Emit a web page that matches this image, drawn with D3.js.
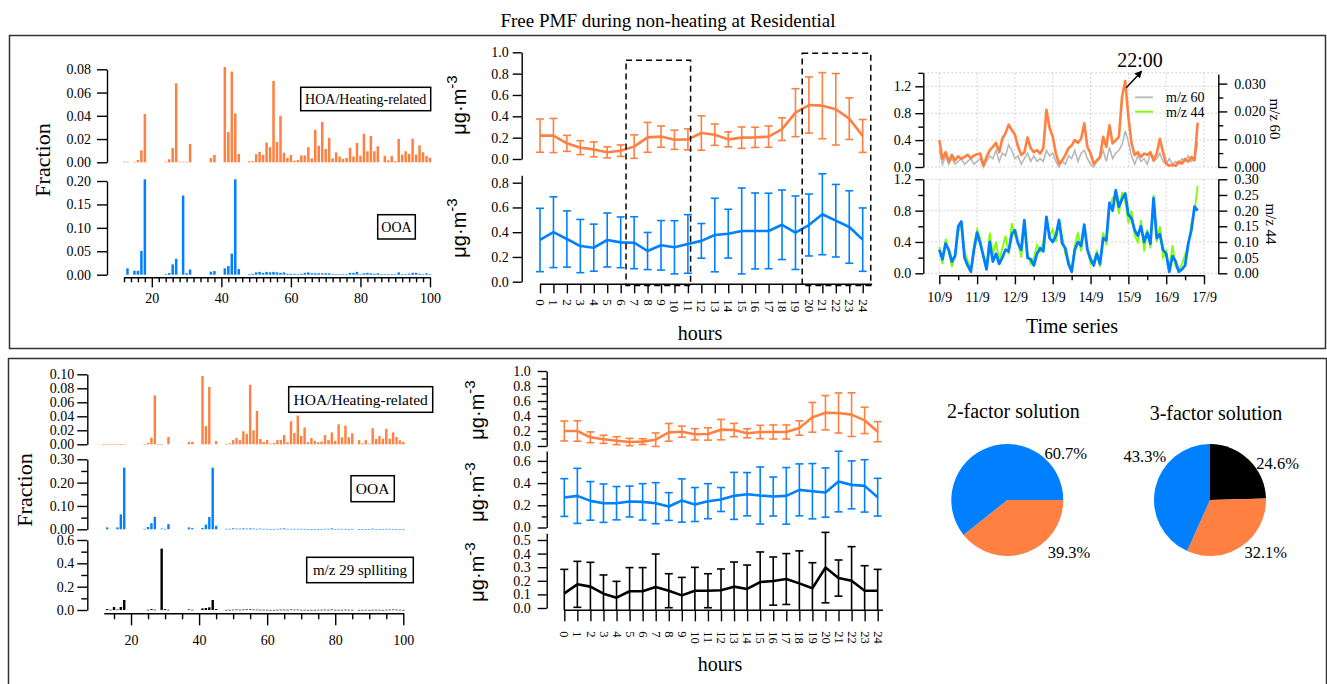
<!DOCTYPE html>
<html><head><meta charset="utf-8">
<script src="https://cdn.jsdelivr.net/npm/d3@7"></script>
<style>
body{margin:0;background:#fff;}
svg{display:block;}
</style></head><body>
<script>
// ---------------- DATA ----------------
const mzList = d3.range(12, 101); // m/z categories 12..100

// Top: 2-factor solution profiles (rows: 12-19, 20-29, ..., 90-99, 100)
const hoaTop = [
 0.0005,0.0005,0,0.0005,0.002,0.0103,0.0415,0,
 0,0,0,0,0.0005,0.0026,0.0123,0.068,0.0005,0.0005,
 0.0005,0.0158,0,0,0,0,0,0.0037,0.0063,0,
 0,0.082,0.026,0.078,0.042,0.0072,0,0,0.001,0.001,
 0.007,0.009,0.0063,0.017,0.013,0.070,0.0175,0.040,0.0083,0.0037,
 0.0063,0.0014,0.002,0.006,0.006,0.013,0.0034,0.028,0.0143,0.0347,
 0.0115,0.021,0.0034,0.0086,0.005,0.003,0.0037,0.0126,0.005,0.0166,
 0.0057,0.0244,0.0095,0.0226,0.0095,0.0138,0,0.0057,0.0017,0.0054,
 0.001,0.02,0.0066,0.0095,0.0072,0.0203,0.0066,0.0146,0.0086,0.0054,
 0.004];
const ooaTop = [
 0,0.0135,0,0.0085,0.0085,0.0505,0.2035,0,
 0,0,0,0,0.001,0.0035,0.022,0.034,0,0.169,
 0.003,0.011,0,0,0,0,0,0.0064,0.0078,0,
 0,0.0135,0.0185,0.045,0.2035,0.012,0,0,0.001,0.002,
 0.005,0.006,0.004,0.006,0.005,0.006,0.005,0.004,0.005,0.002,
 0.002,0.002,0.001,0.002,0.004,0.005,0.003,0.003,0.003,0.003,
 0.003,0.003,0.001,0.001,0.001,0.001,0.001,0.004,0.004,0.006,
 0.001,0.003,0.004,0.003,0.002,0.003,0.001,0.001,0.001,0.001,
 0.001,0.005,0.001,0.001,0.002,0.004,0.004,0.002,0.001,0.003,
 0.001];
// Bottom: 3-factor solution profiles
const hoaBot = [
 0.0003,0.0003,0.0003,0.0003,0.0003,0.0003,0.0003,0,
 0,0,0,0,0.0003,0.002,0.0095,0.07,0.0003,0.0003,
 0,0.0105,0,0,0,0,0,0.0033,0.0033,0,
 0,0.0976,0.026,0.082,0,0.0048,0,0,0.0005,0.0015,
 0.006,0.009,0.006,0.0186,0.0148,0.085,0.02,0.0476,0.0076,0.0033,
 0.006,0.001,0.002,0.006,0.006,0.0133,0.003,0.033,0.0162,0.041,
 0.012,0.024,0.003,0.009,0.005,0.003,0.004,0.0133,0.006,0.017,
 0.005,0.0286,0.01,0.0267,0.01,0.0157,0,0.006,0.0015,0.006,
 0.001,0.023,0.0076,0.012,0.008,0.022,0.008,0.017,0.0105,0.0057,
 0.0033];
const ooaBot = [
 0,0.008,0,0,0.008,0.064,0.264,0,
 0,0,0,0,0.002,0.01,0.026,0.053,0,0.003,
 0.002,0.022,0,0,0,0,0,0.008,0.005,0,
 0,0.006,0.02,0.053,0.264,0.015,0,0,0.002,0.002,
 0.004,0.003,0.003,0.004,0.003,0.004,0.003,0.002,0.003,0.002,
 0.002,0.001,0.001,0.002,0.003,0.004,0.002,0.002,0.002,0.002,
 0.002,0.002,0.001,0.001,0.001,0.001,0.001,0.002,0.002,0.004,
 0.001,0.002,0.002,0.002,0.001,0.002,0,0.001,0.001,0.001,
 0.001,0.003,0.001,0.001,0.001,0.002,0.002,0.001,0.001,0.001,
 0.001];
const mz29Bot = [
 0,0.008,0.002,0.026,0.004,0.026,0.086,0,
 0,0,0,0,0,0.002,0.008,0.003,0,0.526,
 0.008,0.002,0,0,0,0,0,0.005,0.002,0,
 0,0.014,0.017,0.023,0.086,0.008,0,0,0.001,0.002,
 0.003,0.004,0.003,0.004,0.005,0.006,0.004,0.003,0.002,0.002,
 0.002,0.001,0.001,0.002,0.003,0.003,0.002,0.004,0.003,0.003,
 0.002,0.002,0.001,0.001,0.001,0.002,0.002,0.003,0.002,0.004,
 0.002,0.002,0.002,0.003,0.002,0.002,0,0.001,0.001,0.002,
 0.001,0.002,0.002,0.002,0.001,0.002,0.003,0.004,0.003,0.002,
 0.001];

// Diurnal cycles (hour 0..24): mean and half error-bar length
const hours = d3.range(0, 25);
const hoaDiurTop = [0.219,0.22,0.147,0.106,0.09,0.0625,0.078,0.116,0.203,0.21,0.18,0.184,0.244,0.228,0.184,0.2,0.203,0.21,0.28,0.434,0.506,0.5,0.466,0.378,0.216];
const hoaErrTop  = [0.156,0.16,0.075,0.065,0.07,0.052,0.054,0.11,0.14,0.10,0.09,0.098,0.161,0.10,0.07,0.10,0.095,0.10,0.106,0.225,0.263,0.31,0.335,0.195,0.154];
const ooaDiurTop = [0.337,0.40,0.345,0.288,0.275,0.337,0.318,0.315,0.248,0.294,0.278,0.305,0.33,0.377,0.388,0.41,0.41,0.41,0.46,0.396,0.458,0.545,0.493,0.442,0.34];
const ooaErrTop  = [0.256,0.286,0.227,0.215,0.19,0.218,0.205,0.21,0.15,0.2,0.215,0.237,0.14,0.297,0.197,0.347,0.307,0.305,0.281,0.297,0.25,0.327,0.293,0.293,0.256];
const hoaDiurBot = [0.2,0.2,0.116,0.089,0.071,0.053,0.058,0.084,0.182,0.191,0.156,0.16,0.218,0.213,0.169,0.187,0.187,0.187,0.24,0.382,0.444,0.44,0.418,0.342,0.191];
const hoaErrBot  = [0.133,0.136,0.072,0.054,0.053,0.049,0.038,0.09,0.118,0.074,0.075,0.082,0.136,0.089,0.06,0.089,0.094,0.094,0.096,0.198,0.229,0.267,0.291,0.176,0.134];
const ooaDiurBot = [0.27,0.285,0.24,0.219,0.219,0.234,0.231,0.219,0.189,0.243,0.207,0.237,0.252,0.285,0.30,0.288,0.279,0.285,0.339,0.327,0.315,0.414,0.384,0.375,0.273];
const ooaErrBot  = [0.17,0.248,0.174,0.173,0.15,0.139,0.164,0.185,0.125,0.195,0.153,0.158,0.108,0.212,0.195,0.257,0.176,0.255,0.234,0.249,0.222,0.273,0.216,0.236,0.17];
const mz29DiurBot = [0.108,0.174,0.157,0.105,0.076,0.123,0.123,0.154,0.127,0.093,0.127,0.127,0.13,0.157,0.14,0.191,0.198,0.213,0.181,0.145,0.297,0.22,0.20,0.127,0.127];
const mz29ErrBot  = [0.176,0.169,0.179,0.138,0.12,0.174,0.174,0.243,0.125,0.132,0.172,0.125,0.157,0.181,0.176,0.221,0.177,0.187,0.239,0.188,0.259,0.133,0.251,0.184,0.157];

// Time series, 2-hour steps starting 10/9 00:00
const tsStepDays = 1/12;
const dayLabels = ["10/9","11/9","12/9","13/9","14/9","15/9","16/9","17/9"];
const tsHOA = [0.40,0.12,0.22,0.08,0.18,0.10,0.16,0.12,0.15,0.18,
 0.13,0.17,0.19,0.20,0.02,0.15,0.25,0.30,0.36,0.22,
 0.42,0.50,0.63,0.55,0.48,0.30,0.18,0.22,0.44,0.28,
 0.22,0.25,0.20,0.28,0.85,0.58,0.45,0.20,0.05,0.10,
 0.18,0.28,0.32,0.40,0.36,0.42,0.65,0.30,0.20,0.05,
 0.10,0.15,0.45,0.30,0.62,0.35,0.40,0.45,1.05,1.28,
 0.75,0.35,0.18,0.22,0.15,0.20,0.18,0.22,0.10,0.20,
 0.42,0.22,0.05,0.02,0.03,0.02,0.08,0.05,0.12,0.08,
 0.15,0.10,0.66];
const tsMz60 = [0.006,0.001,0.004,0.001,0.003,0.001,0.002,0.003,0.001,0.002,
 0.003,0.001,0.002,0.003,0.000,0.002,0.004,0.003,0.006,0.002,
 0.005,0.004,0.008,0.006,0.003,0.004,0.001,0.003,0.005,0.002,
 0.004,0.002,0.003,0.002,0.006,0.004,0.005,0.002,0.000,0.002,
 0.001,0.004,0.003,0.006,0.002,0.005,0.006,0.003,0.001,0.000,
 0.002,0.003,0.006,0.002,0.007,0.003,0.005,0.006,0.008,0.013,
 0.009,0.004,0.001,0.004,0.002,0.003,0.001,0.005,0.002,0.003,
 0.005,0.002,0.001,0.003,0.001,0.002,0.001,0.003,0.002,0.004,
 0.002,0.003,0.009];
const tsOOA = [0.30,0.18,0.38,0.30,0.15,0.22,0.60,0.66,0.20,0.10,
 0.02,0.30,0.52,0.38,0.22,0.05,0.40,0.15,0.25,0.12,
 0.20,0.30,0.28,0.50,0.55,0.38,0.30,0.68,0.20,0.18,
 0.10,0.25,0.32,0.28,0.72,0.45,0.40,0.48,0.68,0.38,
 0.32,0.12,0.02,0.30,0.40,0.35,0.62,0.30,0.18,0.10,
 0.25,0.12,0.45,0.42,0.90,0.80,1.06,0.85,0.95,1.02,
 0.75,0.70,0.55,0.48,0.60,0.40,0.52,0.38,0.96,0.45,
 0.50,0.30,0.25,0.02,0.22,0.15,0.02,0.05,0.10,0.38,
 0.55,0.85,0.80];
const tsMz44 = [0.085,0.03,0.11,0.07,0.02,0.06,0.13,0.16,0.07,0.04,
 0.01,0.09,0.14,0.11,0.05,0.02,0.13,0.06,0.10,0.04,
 0.08,0.12,0.06,0.16,0.12,0.10,0.05,0.15,0.06,0.03,
 0.05,0.09,0.07,0.10,0.17,0.12,0.14,0.10,0.16,0.12,
 0.06,0.04,0.01,0.09,0.13,0.07,0.15,0.08,0.03,0.04,
 0.07,0.02,0.13,0.09,0.21,0.24,0.25,0.19,0.26,0.23,
 0.16,0.20,0.12,0.10,0.17,0.07,0.14,0.08,0.25,0.10,
 0.15,0.05,0.07,0.01,0.09,0.02,0.01,0.03,0.06,0.09,
 0.16,0.20,0.28];

// Pie fractions (%)
const pie2Names = ["HOA","OOA"];
const pie2Values = [39.3, 60.7];
const pie3Names = ["m/z 29","HOA","OOA"];
const pie3Values = [24.6, 32.1, 43.3];

// ---------------- STYLE ----------------
const ORANGE = "#ff8040", BLUE = "#0080ff", LIME = "#80ff00", GRAY = "#b8b8b8", BLACK = "#000";
const colorOf = {"HOA":ORANGE, "OOA":BLUE, "m/z 29":BLACK};
const serif = '"Liberation Serif","Times New Roman",Times,serif';
const sans = '"Liberation Sans",Arial,Helvetica,sans-serif';

const svg = d3.select("body").append("svg").attr("width",1327).attr("height",684)
  .style("font-family", serif);

function styleAxis(g, fs){
  g.attr("font-family", serif).attr("font-size", fs);
  g.selectAll("path,line").attr("stroke","#000").attr("stroke-width",1.4);
  g.selectAll("text").attr("fill","#000");
  return g;
}
function yAxisLeft(x0, scale, major, fmt, size, pad, fs, minor, minorSize){
  const g = svg.append("g").attr("transform",`translate(${x0},0)`)
    .call(d3.axisLeft(scale).tickValues(major).tickFormat(d3.format(fmt)).tickSize(size).tickPadding(pad).tickSizeOuter(0));
  if (minor) g.append("g").call(d3.axisLeft(scale).tickValues(minor).tickFormat("").tickSize(minorSize).tickSizeOuter(0)).select(".domain").remove();
  return styleAxis(g, fs);
}
function yAxisRight(x0, scale, major, fmt, size, pad, fs, minor, minorSize){
  const g = svg.append("g").attr("transform",`translate(${x0},0)`)
    .call(d3.axisRight(scale).tickValues(major).tickFormat(d3.format(fmt)).tickSize(size).tickPadding(pad).tickSizeOuter(0));
  if (minor) g.append("g").call(d3.axisRight(scale).tickValues(minor).tickFormat("").tickSize(minorSize).tickSizeOuter(0)).select(".domain").remove();
  return styleAxis(g, fs);
}
function rotLabel(x, y, txt, fs, family, angle){
  return svg.append("text").attr("transform",`translate(${x},${y}) rotate(${angle})`)
    .attr("text-anchor","middle").attr("font-family",family).attr("font-size",fs).text(txt);
}
function unitLabel(x, y){
  const t = svg.append("text").attr("transform",`translate(${x},${y}) rotate(-90)`)
    .attr("text-anchor","middle").attr("font-family",sans).attr("font-size",20);
  t.append("tspan").text("μg·m");
  t.append("tspan").attr("dy",-9).attr("font-size",15).text("-3");
}
function boxLabel(x, y, w, h, txt, fs){
  svg.append("rect").attr("x",x).attr("y",y).attr("width",w).attr("height",h)
    .attr("fill","#fff").attr("stroke","#000").attr("stroke-width",1.5);
  svg.append("text").attr("x",x+w/2).attr("y",y+h/2).attr("dy","0.35em")
    .attr("text-anchor","middle").attr("font-size",fs).text(txt);
}

// ---------------- FRAMES & TITLE ----------------
svg.append("rect").attr("x",9.5).attr("y",35.5).attr("width",1316).attr("height",313)
  .attr("fill","none").attr("stroke","#333").attr("stroke-width",1.5);
svg.append("rect").attr("x",8.5).attr("y",358.5).attr("width",1318).attr("height",340)
  .attr("fill","none").attr("stroke","#333").attr("stroke-width",1.5);
svg.append("text").attr("x",668).attr("y",27).attr("text-anchor","middle").attr("font-size",19)
  .text("Free PMF during non-heating at Residential");

// ---------------- SPECTRA ----------------
function bars(x, y, vals, color, bw){
  svg.append("g").selectAll("rect")
    .data(vals.map((v,i)=>({m:mzList[i], v})).filter(d=>d.v>0))
    .join("rect")
    .attr("x", d=>x(d.m)-bw/2).attr("width", bw)
    .attr("y", d=>y(d.v)).attr("height", d=>Math.max(0.6, y(0)-y(d.v)))
    .attr("fill", color);
}
function mzAxis(x, y0, majorSize, minorVals, minorSize, pad, fs){
  const g = svg.append("g").attr("transform",`translate(0,${y0})`)
    .call(d3.axisBottom(x).tickValues([20,40,60,80,100]).tickFormat(d3.format("d")).tickSize(majorSize).tickPadding(pad).tickSizeOuter(0));
  g.append("g").call(d3.axisBottom(x).tickValues(minorVals).tickFormat("").tickSize(minorSize).tickSizeOuter(0)).select(".domain").remove();
  styleAxis(g, fs);
}
// top spectra
{
  const x = d3.scaleLinear().domain([12,100]).range([124,430]);
  const yH = d3.scaleLinear().domain([0,0.08]).range([162.3,69.3]);
  const yO = d3.scaleLinear().domain([0,0.2]).range([274.7,181]);
  bars(x, yH, hoaTop, ORANGE, 2.5);
  bars(x, yO, ooaTop, BLUE, 2.5);
  yAxisLeft(107, yH, [0,0.02,0.04,0.06,0.08], ".2f", 10, 6, 14);
  yAxisLeft(107, yO, [0,0.05,0.10,0.15,0.20], ".2f", 10, 6, 14);
  mzAxis(x, 277.3, 10, mzList.filter(m=>m%2===0 && m%20!==0), 5, 6, 14);
  boxLabel(300.7, 87.3, 130, 23.4, "HOA/Heating-related", 14);
  boxLabel(377.7, 214.7, 37.6, 24.3, "OOA", 14);
  rotLabel(50, 160, "Fraction", 22, serif, -90);
}
// bottom spectra
{
  const x = d3.scaleLinear().domain([12,100]).range([103.8,403.3]);
  const yH = d3.scaleLinear().domain([0,0.1]).range([444.3,374.3]);
  const yO = d3.scaleLinear().domain([0,0.3]).range([529.3,459.3]);
  const yK = d3.scaleLinear().domain([0,0.6]).range([610,540]);
  bars(x, yH, hoaBot, ORANGE, 2.4);
  bars(x, yO, ooaBot, BLUE, 2.4);
  bars(x, yK, mz29Bot, BLACK, 2.4);
  yAxisLeft(87.3, yH, [0,0.02,0.04,0.06,0.08,0.10], ".2f", 10, 3, 14);
  yAxisLeft(87.3, yO, [0,0.1,0.2,0.3], ".2f", 10, 3, 14, [0.05,0.15,0.25], 6);
  yAxisLeft(87.3, yK, [0,0.2,0.4,0.6], ".1f", 10, 3, 14, [0.1,0.3,0.5], 6);
  mzAxis(x, 613.3, 12, mzList.filter(m=>m%5===0 && m%20!==0), 6, 10, 14);
  boxLabel(288.7, 386.7, 144, 25.6, "HOA/Heating-related", 15.5);
  boxLabel(351, 475.7, 43.3, 26, "OOA", 15.5);
  boxLabel(306.7, 557.3, 106.6, 25.4, "m/z 29 splliting", 15);
  rotLabel(32, 490, "Fraction", 22, serif, -90);
}

// ---------------- DIURNAL ----------------
function diurnal(x, y, mean, err, color, capW, lowLimit){
  const g = svg.append("g");
  const pts = hours.map((h,i)=>({h, m:mean[i], e:err[i]}));
  pts.forEach(d=>{
    const lo = d.m - d.e, hi = d.m + d.e;
    const loC = Math.max(lo, lowLimit);
    const xx = x(d.h);
    g.append("line").attr("x1",xx).attr("x2",xx).attr("y1",y(loC)).attr("y2",y(hi))
      .attr("stroke",color).attr("stroke-width",1.6);
    g.append("line").attr("x1",xx-capW/2).attr("x2",xx+capW/2).attr("y1",y(hi)).attr("y2",y(hi))
      .attr("stroke",color).attr("stroke-width",1.6);
    if (lo >= lowLimit)
      g.append("line").attr("x1",xx-capW/2).attr("x2",xx+capW/2).attr("y1",y(lo)).attr("y2",y(lo))
        .attr("stroke",color).attr("stroke-width",1.6);
  });
  g.append("path").datum(pts)
    .attr("d", d3.line().x(d=>x(d.h)).y(d=>y(d.m)))
    .attr("fill","none").attr("stroke",color).attr("stroke-width",2.6).attr("stroke-linejoin","round");
}
function hourAxis(x, y0, size, offset, fs, x1){
  const g = svg.append("g").attr("transform",`translate(0,${y0})`)
    .call(d3.axisBottom(x).tickValues(hours).tickFormat(d3.format("d")).tickSize(size).tickSizeOuter(0));
  g.select(".domain").remove();
  g.append("line").attr("x1", x(0)).attr("x2", x1).attr("y1",0).attr("y2",0);
  g.selectAll(".tick text").attr("transform","rotate(90)").attr("x",offset).attr("y",0)
    .attr("dy","0.35em").attr("text-anchor","start");
  styleAxis(g, fs);
}
// top diurnal
{
  const x = d3.scaleLinear().domain([0,24]).range([540,862.7]);
  const yO = d3.scaleLinear().domain([0,1]).range([159,52.3]);
  const yB = d3.scaleLinear().domain([0,0.86]).range([281.7,281.7-0.86*123.75]);
  yAxisLeft(521.7, yO, [0,0.2,0.4,0.6,0.8,1.0], ".1f", 9, 4, 14);
  yAxisLeft(521.7, yB, [0,0.2,0.4,0.6,0.8], ".1f", 9, 4, 14);
  hourAxis(x, 284.3, 9, 15, 13, x(24.7));
  diurnal(x, yO, hoaDiurTop, hoaErrTop, ORANGE, 8, -1);
  diurnal(x, yB, ooaDiurTop, ooaErrTop, BLUE, 8, -1);
  // dashed highlight boxes (hour ranges)
  [[6.4, 11.2, 0.925],[19.5, 24.6, 0.99]].forEach(([h0,h1,top])=>{
    svg.append("rect").attr("x",x(h0)).attr("y",yO(top)).attr("width",x(h1)-x(h0))
      .attr("height",yB(-0.03)-yO(top)).attr("fill","none").attr("stroke","#000")
      .attr("stroke-width",1.5).attr("stroke-dasharray","6,4");
  });
  unitLabel(466, 105);
  unitLabel(466, 228);
  svg.append("text").attr("x",700).attr("y",340).attr("text-anchor","middle").attr("font-size",20).text("hours");
}
// bottom diurnal
{
  const x = d3.scaleLinear().domain([0,24]).range([564.3,877.7]);
  const yO = d3.scaleLinear().domain([0,1]).range([446,371]);
  const yB = d3.scaleLinear().domain([0,0.69]).range([527.5,527.5-0.69*111]);
  const yK = d3.scaleLinear().domain([0,0.55]).range([608,608-0.55*136]);
  yAxisLeft(546.7, yO, [0,0.2,0.4,0.6,0.8,1.0], ".1f", 9, 7, 14, [0.1,0.3,0.5,0.7,0.9], 5);
  yAxisLeft(546.7, yB, [0,0.2,0.4,0.6], ".1f", 9, 7, 14, [0.1,0.3,0.5], 5);
  yAxisLeft(546.7, yK, [0,0.1,0.2,0.3,0.4,0.5], ".1f", 9, 7, 14);
  hourAxis(x, 610.3, 11, 21, 12.5, x(24.4));
  diurnal(x, yO, hoaDiurBot, hoaErrBot, ORANGE, 8, -1);
  diurnal(x, yB, ooaDiurBot, ooaErrBot, BLUE, 8, -1);
  diurnal(x, yK, mz29DiurBot, mz29ErrBot, BLACK, 8, yK.invert(610.3));
  unitLabel(484, 410);
  unitLabel(484, 492);
  unitLabel(484, 572);
  svg.append("text").attr("x",720).attr("y",671).attr("text-anchor","middle").attr("font-size",20).text("hours");
}

// ---------------- TIME SERIES ----------------
{
  const x = d3.scaleLinear().domain([0,7]).range([939.3,1204]);
  const yTL = d3.scaleLinear().domain([0,1.4]).range([167,72.85]);
  const yTR = d3.scaleLinear().domain([0,0.0335]).range([167,73.9]);
  const yBL = d3.scaleLinear().domain([0,1.2]).range([273.3,179.3]);
  const yBR = d3.scaleLinear().domain([0,0.3]).range([273.3,179.3]);
  const xl = 923.3, xr = 1218.3;
  const grid = svg.append("g").attr("stroke","#c8c8c8").attr("stroke-width",0.8).attr("stroke-dasharray","2,2");
  d3.range(0,8).forEach(d=>{
    grid.append("line").attr("x1",x(d)).attr("x2",x(d)).attr("y1",yTL(1.4)).attr("y2",yTL(0));
    grid.append("line").attr("x1",x(d)).attr("x2",x(d)).attr("y1",yBL(1.2)).attr("y2",yBL(0));
  });
  [0,0.4,0.8,1.2,1.4].forEach(v=>grid.append("line").attr("x1",xl).attr("x2",xr).attr("y1",yTL(v)).attr("y2",yTL(v)));
  [0,0.4,0.8,1.2].forEach(v=>grid.append("line").attr("x1",xl).attr("x2",xr).attr("y1",yBL(v)).attr("y2",yBL(v)));

  const t = i => i*tsStepDays;
  const line = (ys, vals) => d3.line().x((d,i)=>x(t(i))).y(d=>ys(d))(vals);
  svg.append("path").attr("d",line(yTR, tsMz60)).attr("fill","none").attr("stroke",GRAY).attr("stroke-width",1.6);
  svg.append("path").attr("d",line(yTL, tsHOA)).attr("fill","none").attr("stroke",ORANGE).attr("stroke-width",2.6).attr("stroke-linejoin","round");
  svg.append("path").attr("d",line(yBR, tsMz44)).attr("fill","none").attr("stroke",LIME).attr("stroke-width",1.8);
  svg.append("path").attr("d",line(yBL, tsOOA)).attr("fill","none").attr("stroke",BLUE).attr("stroke-width",2.8).attr("stroke-linejoin","round");

  yAxisLeft(xl, yTL, [0,0.4,0.8,1.2], ".1f", 8, 4, 14, [0.2,0.6,1.0,1.4], 5);
  yAxisRight(xr, yTR, [0,0.01,0.02,0.03], ".3f", 9, 7, 14, [0.005,0.015,0.025], 5);
  yAxisLeft(xl, yBL, [0,0.4,0.8,1.2], ".1f", 8, 4, 14, [0.2,0.6,1.0], 5);
  yAxisRight(xr, yBR, [0,0.05,0.10,0.15,0.20,0.25,0.30], ".2f", 9, 7, 14);

  const gx = svg.append("g").attr("transform",`translate(0,275.3)`)
    .call(d3.axisBottom(x).tickValues(d3.range(0,8)).tickFormat(d=>dayLabels[d]).tickSize(9).tickPadding(8).tickSizeOuter(0));
  gx.append("g").call(d3.axisBottom(x).tickValues(d3.range(0.5,7,1)).tickFormat("").tickSize(5).tickSizeOuter(0)).select(".domain").remove();
  styleAxis(gx, 14);

  rotLabel(1270, 119, "m/z 60", 15, serif, 90);
  rotLabel(1266, 224, "m/z 44", 15, serif, 90);
  svg.append("text").attr("x",1072).attr("y",333).attr("text-anchor","middle").attr("font-size",20).text("Time series");

  // legend
  [["m/z 60",GRAY,97.3],["m/z 44",LIME,111.7]].forEach(([lab,c,yy])=>{
    svg.append("line").attr("x1",1135).attr("x2",1153).attr("y1",yy).attr("y2",yy).attr("stroke",c).attr("stroke-width",1.8);
    svg.append("text").attr("x",1166).attr("y",yy).attr("dy","0.35em").attr("font-size",14).text(lab);
  });

  // peak annotation
  const iPeak = d3.maxIndex(tsHOA);
  const ax = x(t(iPeak)) + 1, ay = yTL(1.18);
  const defs = svg.append("defs");
  defs.append("marker").attr("id","arr").attr("viewBox","0 0 10 10").attr("refX",8).attr("refY",5)
    .attr("markerWidth",5).attr("markerHeight",5).attr("orient","auto")
    .append("path").attr("d","M0,0 L10,5 L0,10 z").attr("fill","#000");
  svg.append("line").attr("x1",ax).attr("y1",ay).attr("x2",ax+15).attr("y2",ay-16)
    .attr("stroke","#000").attr("stroke-width",1.5).attr("marker-end","url(#arr)");
  svg.append("text").attr("x",1140).attr("y",60).attr("dy","0.35em").attr("text-anchor","middle").attr("font-size",20).text("22:00");
}

// ---------------- PIES ----------------
function drawPie(cx, cy, names, values, startAngle, title, titleY, labelLayout){
  const r = 56;
  const pie = d3.pie().sort(null).value(d=>d.v).startAngle(startAngle).endAngle(startAngle+2*Math.PI);
  const arcs = pie(names.map((n,i)=>({n, v:values[i]})));
  const g = svg.append("g").attr("transform",`translate(${cx},${cy})`);
  g.selectAll("path").data(arcs).join("path").attr("d", d3.arc().innerRadius(0).outerRadius(r))
    .attr("fill", d=>colorOf[d.data.n]);
  arcs.forEach((a,i)=>{
    const [ang, rad] = labelLayout[i];
    const [px,py] = d3.pointRadial(ang*Math.PI/180, rad);
    g.append("text").attr("x",px).attr("y",py).attr("dy","0.35em").attr("text-anchor","middle")
      .attr("font-size",16.5).text(d3.format(".1f")(a.data.v)+"%");
  });
  svg.append("text").attr("x",cx+6).attr("y",titleY).attr("dy","0.35em").attr("text-anchor","middle").attr("font-size",20).text(title);
}
drawPie(1007.3, 500, pie2Names, pie2Values, Math.PI/2, "2-factor solution", 410.7, [[130.3,80.9],[51.4,74.8]]);
drawPie(1210, 500, pie3Names, pie3Values, 0, "3-factor solution", 413.3, [[61.5,77],[133.2,76.4],[304,78.5]]);
</script>
</body></html>
